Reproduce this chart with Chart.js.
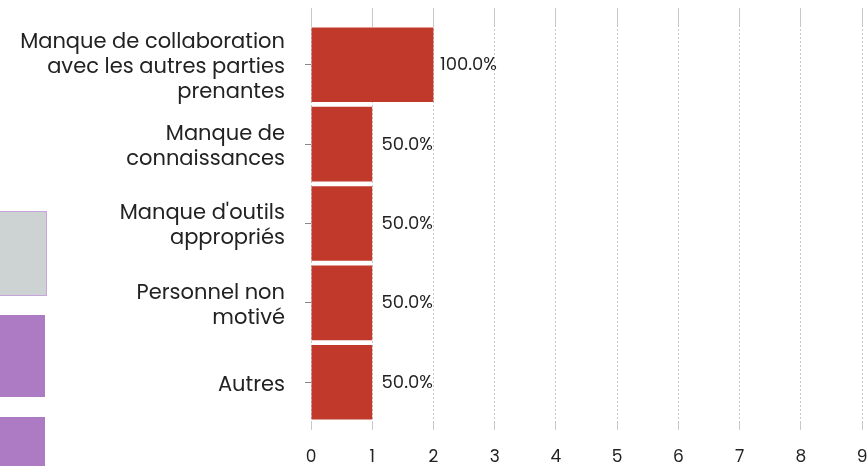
<!DOCTYPE html>
<html>
<head>
<meta charset="utf-8">
<script src="https://cdn.jsdelivr.net/npm/chart.js@4.4.0/dist/chart.umd.min.js"></script>
<style>
  html, body { margin: 0; padding: 0; background: #fff; overflow: hidden; }
  #wrap { position: relative; width: 867px; height: 466px; }
  #chart { position: absolute; left: 0; top: 0; }
  .box { position: absolute; left: 0; width: 45px; box-sizing: border-box; }
</style>
</head>
<body>
<div id="wrap">
  <div class="box" style="top:211px;height:85px;background:#cdd3d3;border:1px solid #c9a3dc;border-left:none;width:47px;"></div>
  <div class="box" style="top:315px;height:82px;background:#ac7bc4;"></div>
  <div class="box" style="top:417px;height:60px;background:#ac7bc4;"></div>
  <canvas id="chart" width="867" height="466"></canvas>
</div>
<script>
const categories = [
  ['Manque de collaboration', 'avec les autres parties', 'prenantes'],
  ['Manque de', 'connaissances'],
  ["Manque d'outils", 'appropriés'],
  ['Personnel non', 'motivé'],
  ['Autres'],
];
const counts = [2, 1, 1, 1, 1];
const percents = ['100.0%', '50.0%', '50.0%', '50.0%', '50.0%'];
const xTicks = [0, 1, 2, 3, 4, 5, 6, 7, 8, 9];

const FONT = 'Poppins, "Noto Sans", sans-serif';

// étiquettes de pourcentage à droite des barres
const valueLabels = {
  id: 'valueLabels',
  afterDatasetsDraw(chart) {
    const ctx = chart.ctx;
    const meta = chart.getDatasetMeta(0);
    ctx.save();
    ctx.font = '18px ' + FONT;
    ctx.fillStyle = '#222';
    ctx.textAlign = 'center';
    ctx.textBaseline = 'middle';
    meta.data.forEach((bar, i) => {
      ctx.fillText(percents[i], bar.x + 35, bar.y + 1);
    });
    ctx.restore();
  }
};

function noPadding(scale) {
  scale.paddingTop = 0;
  scale.paddingBottom = 0;
  scale.paddingLeft = 0;
  scale.paddingRight = 0;
}

const ctx = document.getElementById('chart').getContext('2d');
new Chart(ctx, {
  type: 'bar',
  data: {
    labels: categories,
    datasets: [{
      data: counts,
      backgroundColor: '#c0392b',
      barPercentage: 0.94,
      categoryPercentage: 1,
    }]
  },
  options: {
    indexAxis: 'y',
    responsive: false,
    animation: false,
    layout: { autoPadding: false, padding: { top: 8, right: 5, bottom: 0, left: 0 } },
    plugins: {
      legend: { display: false },
      tooltip: { enabled: false },
    },
    scales: {
      x: {
        min: 0,
        max: 9,
        afterBuildTicks: (scale) => { scale.ticks = xTicks.map(v => ({ value: v })); },
        afterFit: (scale) => { scale.height = 44; noPadding(scale); },
        grid: {
          color: '#c8c8c8',
          lineWidth: 1,
          tickLength: 8,
        },
        border: { display: false, dash: [2, 2] },
        ticks: {
          color: '#222',
          font: { family: FONT, size: 17 },
          padding: 18,
        },
      },
      x2: {
        position: 'top',
        min: 0,
        max: 9,
        afterBuildTicks: (scale) => { scale.ticks = xTicks.map(v => ({ value: v })); },
        afterFit: (scale) => { scale.height = 17; noPadding(scale); },
        grid: {
          color: '#c8c8c8',
          drawOnChartArea: false,
          tickLength: 17,
        },
        border: { display: false, dash: [2, 2] },
        ticks: { display: false },
      },
      y: {
        afterFit: (scale) => { scale.width = 311; noPadding(scale); },
        grid: {
          offset: false,
          drawOnChartArea: false,
          drawTicks: true,
          tickLength: 6,
          color: '#888',
        },
        border: { display: false },
        ticks: {
          color: '#222',
          font: { family: FONT, size: 21, lineHeight: 1.2 },
          padding: 20,
          labelOffset: 3,
        },
      }
    }
  },
  plugins: [valueLabels]
});
</script>
</body>
</html>
